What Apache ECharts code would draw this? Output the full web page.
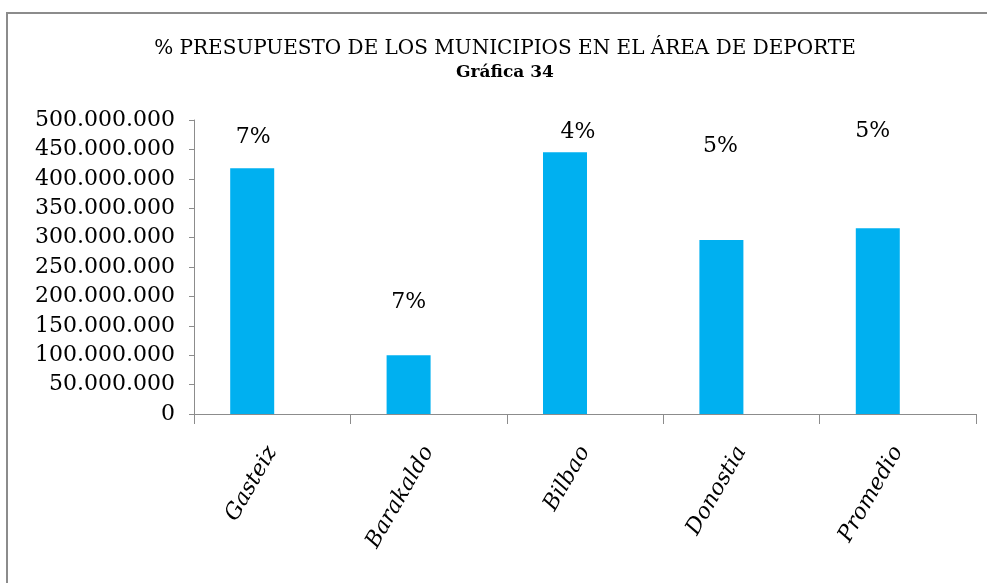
<!DOCTYPE html>
<html>
<head>
<meta charset="UTF-8">
<title>Gráfica 34</title>
<script src="https://cdn.jsdelivr.net/npm/echarts@6/dist/echarts.min.js"></script>
<style>
  html, body { margin: 0; padding: 0; background: #fff; }
  #main { width: 987px; height: 583px; }
</style>
</head>
<body>
<div id="main"></div>
<script type="text/javascript">
// datos
var municipios = ['Gasteiz', 'Barakaldo', 'Bilbao', 'Donostia', 'Promedio'];
var presupuesto = [418000000, 100000000, 445000000, 296000000, 316000000];
var porcentaje = ['7%', '7%', '4%', '5%', '5%'];

// las etiquetas estan movidas a mano en el original
var desplazar = [[1, -12], [0, -34], [13, -1], [-1, -75], [-5, -78]];

function miles(v) {
    return String(v).replace(/\B(?=(\d{3})+(?!\d))/g, '.');
}

var myChart = echarts.init(document.getElementById('main'));

var datos = presupuesto.map(function (v, i) {
    return {
        value: v,
        label: { offset: desplazar[i], formatter: porcentaje[i] }
    };
});

myChart.setOption({
    backgroundColor: '#ffffff',
    animation: false,
    graphic: [{
        type: 'rect',
        shape: { x: 7, y: 13, width: 985, height: 600 },
        style: { fill: 'none', stroke: '#8c8c8c', lineWidth: 2 }
    }],
    title: {
        text: '% PRESUPUESTO DE LOS MUNICIPIOS EN EL ÁREA DE DEPORTE',
        subtext: 'Gráfica 34',
        left: 500,
        textAlign: 'center',
        top: 34,
        itemGap: 5,
        textStyle: { fontFamily: 'DejaVu Serif', fontSize: 20, fontWeight: 'normal', color: '#000' },
        subtextStyle: { fontFamily: 'DejaVu Serif', fontSize: 17, fontWeight: 'bold', color: '#000' }
    },
    grid: { left: 194, right: 11, top: 120, bottom: 169 },
    xAxis: {
        type: 'category',
        data: municipios,
        axisLine: { lineStyle: { color: '#8c8c8c', width: 1 } },
        axisTick: { show: true, length: 10, lineStyle: { color: '#8c8c8c' } },
        axisLabel: {
            rotate: 60,
            margin: 34,
            fontFamily: 'DejaVu Serif',
            fontStyle: 'italic',
            fontSize: 22,
            color: '#000'
        }
    },
    yAxis: {
        type: 'value',
        min: 0,
        max: 500000000,
        interval: 50000000,
        splitLine: { show: false },
        axisLine: { show: true, lineStyle: { color: '#8c8c8c', width: 1 } },
        axisTick: { show: true, length: 5, lineStyle: { color: '#8c8c8c' } },
        axisLabel: {
            margin: 19,
            fontFamily: 'DejaVu Serif',
            fontSize: 22,
            color: '#000',
            formatter: miles
        }
    },
    series: [{
        type: 'bar',
        data: datos,
        barWidth: 44,
        barGap: '0%',
        itemStyle: { color: '#00b0f0' },
        label: {
            show: true,
            position: 'top',
            distance: 8,
            fontFamily: 'DejaVu Serif',
            fontSize: 22,
            color: '#000'
        }
    }, {
        // serie vacia: en el original las barras no estan centradas
        type: 'bar',
        data: [],
        barWidth: 40,
        silent: true
    }]
});
</script>
</body>
</html>
